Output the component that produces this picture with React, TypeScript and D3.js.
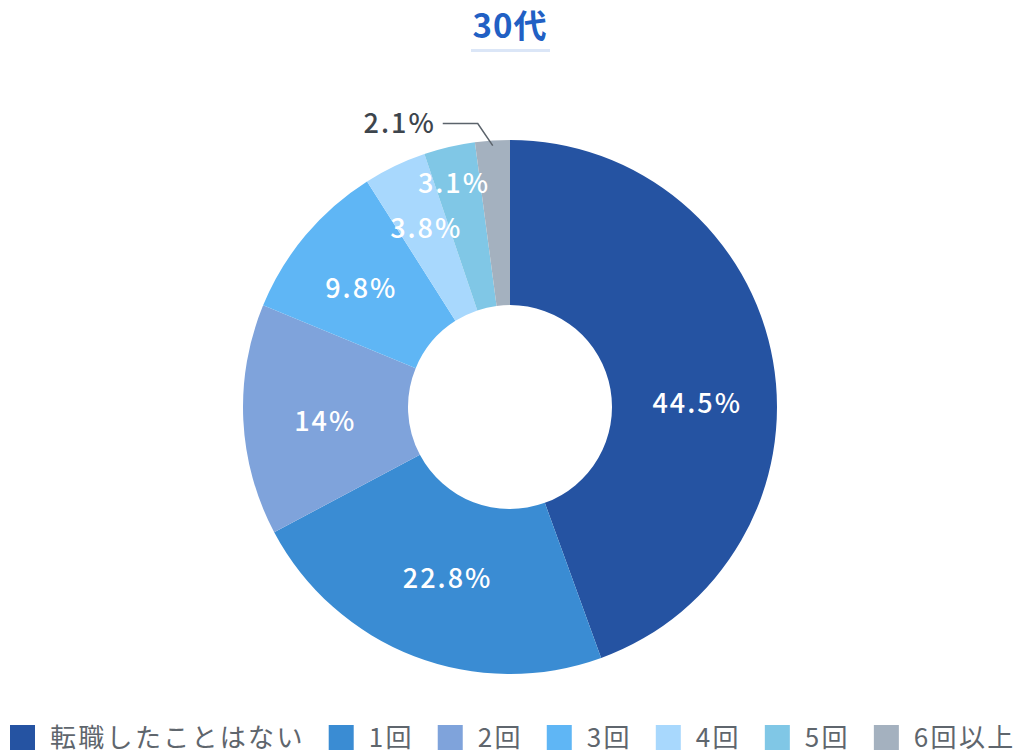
import React, { useEffect, useRef } from "react";
import * as d3 from "d3";

const title = "30代";
const categories = ["転職したことはない", "1回", "2回", "3回", "4回", "5回", "6回以上"];
const values = [44.5, 22.8, 14, 9.8, 3.8, 3.1, 2.1];
const labels = ["44.5%", "22.8%", "14%", "9.8%", "3.8%", "3.1%", "2.1%"];
const colors = ["#2553a2", "#3a8cd3", "#7fa3db", "#5fb6f5", "#a8d8fd", "#80c7e6", "#a4b1bf"];
const outsideLabel = [false, false, false, false, false, false, true];

// label placement nudges (layout only), in px relative to the arc centroid
const labelNudges: [number, number][] = [
  [5, 28],
  [4, -1],
  [0, 5],
  [-7, 0],
  [-4, -12],
  [-14, -44],
  [0, 0],
];

const W = 1024;
const H = 754;
const cx = 510;
const cy = 407;
const outerR = 267;
const innerR = 102;
const FONT = "'Noto Sans CJK JP', 'Noto Sans', sans-serif";

export default function App() {
  const ref = useRef<SVGSVGElement | null>(null);

  useEffect(() => {
    const svg = d3.select(ref.current);
    svg.selectAll("*").remove();

    // Title
    svg
      .append("text")
      .attr("x", cx)
      .attr("y", 38)
      .attr("text-anchor", "middle")
      .attr("font-family", FONT)
      .attr("font-size", 33)
      .attr("letter-spacing", 1)
      .attr("font-weight", 700)
      .attr("fill", "#2160c4")
      .text(title);
    svg
      .append("rect")
      .attr("x", 471)
      .attr("y", 49)
      .attr("width", 79)
      .attr("height", 3)
      .attr("fill", "#dbe6f7");

    const pie = d3
      .pie<number>()
      .sort(null)
      .value((d) => d);
    const arcs = pie(values);
    const arc = d3.arc<d3.PieArcDatum<number>>().innerRadius(innerR).outerRadius(outerR);
    const labelArc = d3
      .arc<d3.PieArcDatum<number>>()
      .innerRadius(185)
      .outerRadius(185);

    const g = svg.append("g").attr("transform", `translate(${cx},${cy})`);
    g.selectAll("path.slice")
      .data(arcs)
      .join("path")
      .attr("class", "slice")
      .attr("d", arc as any)
      .attr("fill", (_, i) => colors[i]);

    g.selectAll("text.lbl")
      .data(arcs.filter((_, i) => !outsideLabel[i]))
      .join("text")
      .attr("class", "lbl")
      .attr("transform", (d) => {
        const [x, y] = labelArc.centroid(d);
        const [nx, ny] = labelNudges[d.index];
        return `translate(${x + nx},${y + ny})`;
      })
      .attr("text-anchor", "middle")
      .attr("dy", "0.36em")
      .attr("font-family", FONT)
      .attr("font-size", 27)
      .attr("letter-spacing", 2)
      .attr("font-weight", 500)
      .attr("fill", "#ffffff")
      .text((d) => labels[d.index]);

    // Outside labels with leader line
    arcs.forEach((d, i) => {
      if (!outsideLabel[i]) return;
      const mid = (d.startAngle + d.endAngle) / 2;
      const start = [Math.sin(mid) * (outerR - 5), -Math.cos(mid) * (outerR - 5)];
      const elbow = [start[0] - 15, start[1] - 22];
      const end = [elbow[0] - 35, elbow[1]];
      g.append("path")
        .attr("d", d3.line()([start as [number, number], elbow as [number, number], end as [number, number]]))
        .attr("fill", "none")
        .attr("stroke", "#5b636b")
        .attr("stroke-width", 1.5);
      g.append("text")
        .attr("x", end[0] - 7)
        .attr("y", end[1])
        .attr("dy", "0.36em")
        .attr("text-anchor", "end")
        .attr("font-family", FONT)
        .attr("font-size", 27)
        .attr("letter-spacing", 2)
        .attr("font-weight", 500)
        .attr("fill", "#3d454d")
        .text(labels[i]);
    });

    // Legend
    const lg = svg.append("g");
    let x = 10;
    categories.forEach((c, i) => {
      lg.append("rect")
        .attr("x", x)
        .attr("y", 725)
        .attr("width", 25)
        .attr("height", 25)
        .attr("fill", colors[i]);
      const t = lg
        .append("text")
        .attr("x", x + 40)
        .attr("y", 747)
        .attr("font-family", FONT)
        .attr("font-size", 26)
        .attr("letter-spacing", 2.3)
        .attr("fill", "#5f666d")
        .text(c);
      const w = (t.node() as SVGTextElement).getComputedTextLength();
      x = x + 40 + w + 24;
    });
  }, []);

  return (
    <svg
      ref={ref}
      width={W}
      height={H}
      style={{ position: "absolute", left: 0, top: 0, background: "#ffffff" }}
    />
  );
}
